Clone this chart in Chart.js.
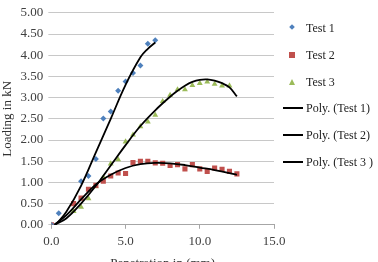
<!DOCTYPE html>
<html>
<head>
<meta charset="utf-8">
<script src="https://cdn.jsdelivr.net/npm/chart.js@4/dist/chart.umd.min.js"></script>
<style>
html, body { margin: 0; padding: 0; background: #fff; overflow: hidden; }
#wrap { position: relative; width: 378px; height: 271px; }
#legend { position: absolute; left: 283px; top: 0; font: 12px "Liberation Serif", serif; color: #222; }
.row { position: absolute; left: 0; height: 14px; width: 95px; white-space: nowrap; }
.sym { position: absolute; left: 0; top: 0; width: 20px; height: 14px; }
.txt { position: absolute; left: 23px; top: 0; line-height: 14px; }
</style>
</head>
<body>
<div id="wrap">
<canvas id="chart" width="378" height="271"></canvas>
<div id="legend"></div>
</div>
<script>
// Loading vs penetration, three tests + polynomial trend lines

const xTicks = [0, 5, 10, 15];

const test1X = [0, 0.5, 2.0, 2.5, 3.0, 3.5, 4.0, 4.5, 5.0, 5.5, 6.0, 6.5, 7.0];
const test1Y = [0, 0.27, 1.03, 1.15, 1.55, 2.51, 2.67, 3.16, 3.38, 3.58, 3.76, 4.27, 4.35];

const test2X = [0, 1.5, 2.0, 2.5, 3.0, 3.5, 4.0, 4.5, 5.0, 5.5, 6.0, 6.5, 7.0, 7.5, 8.0, 8.5, 9.0, 9.5, 10.0, 10.5, 11.0, 11.5, 12.0, 12.5];
const test2Y = [0, 0.50, 0.63, 0.84, 0.93, 1.03, 1.15, 1.22, 1.21, 1.47, 1.50, 1.50, 1.46, 1.45, 1.40, 1.42, 1.32, 1.42, 1.32, 1.26, 1.34, 1.31, 1.26, 1.20];

const test3X = [0, 1.5, 2.0, 2.5, 3.0, 3.5, 4.0, 4.5, 5.0, 5.5, 6.0, 6.5, 7.0, 7.5, 8.0, 8.5, 9.0, 9.5, 10.0, 10.5, 11.0, 11.5, 12.0];
const test3Y = [0, 0.32, 0.42, 0.62, 0.90, 1.12, 1.44, 1.54, 1.96, 2.12, 2.32, 2.43, 2.59, 2.91, 3.06, 3.19, 3.19, 3.29, 3.34, 3.37, 3.32, 3.28, 3.28];

// trend lines
const poly1X = [0.3, 1.0, 2.0, 3.0, 4.0, 5.0, 6.0, 6.5, 7.0];
const poly1Y = [0.0, 0.30, 0.92, 1.71, 2.50, 3.30, 3.95, 4.15, 4.30];

const poly2X = [0.2, 1, 2, 3, 4, 5, 6, 7, 8, 9, 10, 11, 12, 12.5];
const poly2Y = [0.0, 0.22, 0.60, 0.95, 1.18, 1.34, 1.43, 1.46, 1.45, 1.41, 1.35, 1.29, 1.22, 1.18];

const poly3X = [0.2, 1, 2, 3, 4, 5, 6, 7, 8, 8.5, 9, 9.5, 10, 10.5, 11, 11.5, 12, 12.5];
const poly3Y = [0.0, 0.15, 0.50, 0.92, 1.40, 1.88, 2.33, 2.70, 3.02, 3.16, 3.28, 3.37, 3.42, 3.43, 3.40, 3.34, 3.24, 3.03];

const seriesNames = ["Test 1", "Test 2", "Test 3", "Poly. (Test 1)", "Poly. (Test 2)", "Poly. (Test 3 )"];

function pts(xs, ys){
return xs.map((x, i) => ({ x: x, y: ys[i] }));
}

const serif = "'Liberation Serif', 'Times New Roman', serif";

function scatterSet(label, xs, ys, color, style, r){
return {
label: label,
data: pts(xs, ys),
showLine: false,
pointStyle: style,
pointRadius: r,
pointBackgroundColor: color,
pointBorderColor: color,
pointBorderWidth: 0,
order: 1
};
}

function trendSet(label, xs, ys){
return {
label: label,
type: "line",
data: pts(xs, ys),
showLine: true,
borderColor: "#000",
borderWidth: 1.8,
pointRadius: 0,
tension: 0.4,
fill: false,
order: 0
};
}

const chart = new Chart(document.getElementById("chart"), {
type: "scatter",
data: {
datasets: [
scatterSet(seriesNames[0], test1X, test1Y, "#4F81BD", "rectRot", 3),
scatterSet(seriesNames[1], test2X, test2Y, "#C0504D", "rect", 3.6),
scatterSet(seriesNames[2], test3X, test3Y, "#9BBB59", "triangle", 3.4),
trendSet(seriesNames[3], poly1X, poly1Y),
trendSet(seriesNames[4], poly2X, poly2Y),
trendSet(seriesNames[5], poly3X, poly3Y)
]
},
options: {
responsive: false,
animation: false,
layout: { padding: { left: 0, right: 104, top: 8, bottom: 0 } },
plugins: {
legend: { display: false },
tooltip: { enabled: false }
},
scales: {
x: {
type: "linear",
min: 0,
max: 15,
afterBuildTicks: axis => { axis.ticks = xTicks.map(v => ({ value: v })); },
ticks: {
color: "#404040",
font: { family: serif, size: 13 },
padding: 5,
callback: v => Number(v).toFixed(1),
maxRotation: 0
},
grid: { display: true, drawOnChartArea: false, drawTicks: true, tickLength: 4, color: "#A6A6A6" },
border: { display: true, color: "#A6A6A6" },
title: {
display: true,
text: "Penetration in (mm)",
color: "#333",
font: { family: serif, size: 13 },
padding: { top: 1, bottom: 0 }
}
},
y: {
min: 0,
max: 5,
ticks: {
stepSize: 0.5,
color: "#404040",
font: { family: serif, size: 13 },
padding: 5,
callback: v => Number(v).toFixed(2)
},
grid: { color: "#C8C8C8", lineWidth: 1, tickLength: 3, drawTicks: true },
border: { display: false },
title: {
display: true,
text: "Loading in kN",
color: "#333",
font: { family: serif, size: 13 },
padding: { top: 0, bottom: 0 }
}
}
}
}
});

/* LEGEND (html, from the datasets) */

const legendRows = [28, 55, 82, 108, 135, 162];
const legend = document.getElementById("legend");

chart.data.datasets.forEach((ds, i) => {
const row = document.createElement("div");
row.className = "row";
row.style.top = (legendRows[i] - 7) + "px";
const sym = document.createElement("div");
sym.className = "sym";
let mark = "";
if (ds.showLine) {
mark = '<div style="position:absolute;left:0;top:6px;width:20px;height:2px;background:#000"></div>';
} else if (ds.pointStyle === "rectRot") {
mark = '<div style="position:absolute;left:7px;top:4px;width:4px;height:4px;background:' + ds.pointBackgroundColor + ';transform:rotate(45deg)"></div>';
} else if (ds.pointStyle === "rect") {
mark = '<div style="position:absolute;left:6px;top:4px;width:6px;height:6px;background:' + ds.pointBackgroundColor + '"></div>';
} else {
mark = '<div style="position:absolute;left:6px;top:4px;width:0;height:0;border-left:3px solid transparent;border-right:3px solid transparent;border-bottom:6px solid ' + ds.pointBackgroundColor + '"></div>';
}
sym.innerHTML = mark;
const txt = document.createElement("span");
txt.className = "txt";
txt.textContent = ds.label;
row.appendChild(sym);
row.appendChild(txt);
legend.appendChild(row);
});
</script>
</body>
</html>
